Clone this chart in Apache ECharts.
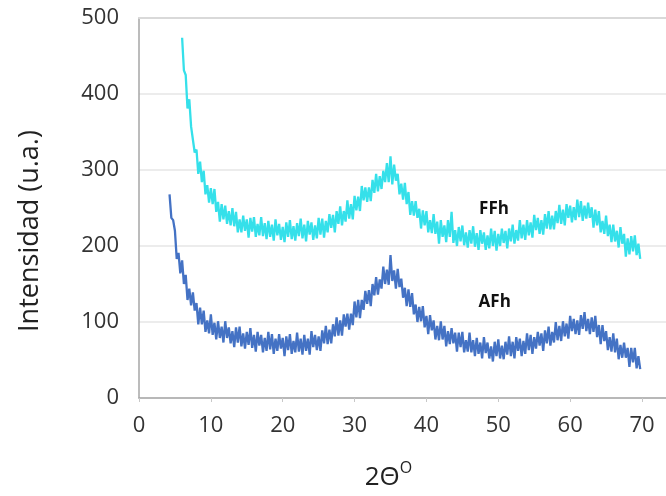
<!DOCTYPE html>
<html>
<head>
<meta charset="utf-8">
<script src="https://cdn.jsdelivr.net/npm/echarts@6/dist/echarts.min.js"></script>
<style>
html,body{margin:0;padding:0;background:#fff;}
#chart{width:666px;height:496px;}
</style>
</head>
<body>
<div id="chart"></div>
<script>
// 2-theta scan grid (degrees)
const xStep = 0.25;
const ffhStart = 6.0;
const afhStart = 4.25;

// Intensity values (u.a.), one group of 4 per degree
const ffhValues = [
  474,431,425,381, 393,357,357,323, 327,295,311,284, 299,268,280,257,
  276,255,275,245, 258,232,255,235, 253,229,246,227, 250,226,245,218,
  235,218,240,220, 235,211,237,219, 238,212,229,214, 238,213,230,209,
  233,212,228,207, 235,214,229,208, 225,205,231,212, 234,209,226,207,
  230,213,236,210, 228,206,233,215, 231,208,227,210, 237,215,236,211,
  233,218,242,224, 241,218,246,229, 252,227,246,232, 260,236,255,235,
  266,247,265,246, 279,260,277,258, 277,259,287,270, 295,272,292,275,
  299,284,309,284, 318,281,307,286, 295,268,282,261, 283,255,271,241,
  259,240,259,237, 249,223,247,227, 246,218,234,217, 242,216,232,203,
  234,212,227,205, 234,212,245,204, 221,200,225,206, 227,201,218,198,
  221,203,226,199, 217,195,221,203, 218,195,214,197, 223,200,220,194,
  216,200,223,204, 220,197,223,206, 228,203,221,207, 234,210,228,208,
  234,214,231,211, 241,221,237,216, 234,215,242,223, 246,222,240,222,
  246,230,254,229, 248,227,255,237, 253,231,251,234, 261,238,259,233,
  253,236,257,237, 251,224,248,227, 246,218,233,216, 240,213,228,205,
  228,206,220,198, 225,203,216,186, 210,189,213,193, 214,188,203,183
];
const afhValues = [
  268,237,234,
  220,183,191,164, 181,150,162,129, 144,122,139,115, 125,97,119,97,
  115,87,102,85, 110,83,99,77, 101,79,94,73, 101,79,93,72,
  88,67,93,73, 94,68,85,65, 87,70,92,66, 83,61,87,69,
  83,60,79,62, 87,64,84,58, 78,62,84,65, 79,55,81,63,
  84,58,75,60, 86,61,78,57, 83,62,78,57, 88,67,83,63,
  81,62,89,72, 95,71,90,72, 97,81,106,82, 102,82,110,94,
  111,90,111,96, 127,106,129,105, 129,116,141,124, 142,121,150,135,
  159,136,156,144, 173,150,169,149, 188,154,168,144, 170,146,157,132,
  145,121,143,120, 138,110,123,100, 120,101,121,93, 108,84,109,89,
  102,77,95,76, 101,77,95,68, 88,71,92,72, 86,61,86,67,
  87,60,76,61, 86,60,76,55, 79,58,73,52, 80,59,73,52,
  68,48,74,55, 77,52,69,51, 74,57,81,55, 74,52,80,62,
  78,55,75,58, 85,63,83,58, 80,65,87,69, 85,62,89,72,
  94,69,87,73, 100,76,95,75, 101,81,98,78, 108,88,104,84,
  102,83,109,91, 113,88,104,84, 106,87,108,80, 96,71,96,75,
  88,63,80,61, 85,60,78,51, 70,53,73,53, 66,41,66,47,
  66,39,55,38
];
const seriesNames = ['FFh', 'AFh'];
const xTicks = [0, 10, 20, 30, 40, 50, 60, 70];
const yTicks = [0, 100, 200, 300, 400, 500];

function toPairs(start, vals) {
  return vals.map((v, i) => [start + i * xStep, v]);
}

const chart = echarts.init(document.getElementById('chart'), null, {renderer: 'canvas'});
const font = "'Open Sans', 'Noto Sans', sans-serif";

chart.setOption({
  animation: false,
  backgroundColor: '#ffffff',
  grid: {left: 139, right: 0, top: 18, bottom: 93, containLabel: false},
  xAxis: [{
    type: 'value',
    min: xTicks[0],
    max: 73.34,
    interval: 10,
    name: '{t|2Θ}{s|O}',
    nameLocation: 'middle',
    nameGap: 62,
    nameTextStyle: {
      padding: [0, 28, 0, 0],
      rich: {
        t: {fontSize: 26, fontFamily: font, color: '#222', lineHeight: 36},
        s: {fontSize: 16, fontFamily: font, color: '#222', lineHeight: 16, verticalAlign: 'top'}
      }
    },
    axisLine: {show: true, onZero: false, lineStyle: {color: '#a6a6a6', width: 1.5}},
    axisTick: {show: true, length: 4, lineStyle: {color: '#c8c8c8'}},
    axisLabel: {
      fontSize: 22, fontFamily: font, color: '#333', margin: 17, showMaxLabel: false,
      formatter: v => (xTicks.indexOf(v) >= 0 ? String(v) : '')
    },
    splitLine: {show: false}
  }, {
    type: 'value',
    position: 'top',
    min: xTicks[0],
    max: 73.34,
    interval: 10,
    axisLine: {show: true, onZero: false, lineStyle: {color: '#d9d9d9', width: 2}},
    axisTick: {show: false},
    axisLabel: {show: false},
    splitLine: {show: false}
  }],
  yAxis: {
    type: 'value',
    min: yTicks[0],
    max: yTicks[yTicks.length - 1],
    interval: 100,
    axisLine: {show: true, lineStyle: {color: '#a6a6a6', width: 1.5}},
    axisTick: {show: false},
    axisLabel: {fontSize: 22, fontFamily: font, color: '#333', margin: 20},
    splitLine: {show: true, lineStyle: {color: '#e6e6e6', width: 1.5}}
  },
  graphic: [{
    type: 'text',
    x: 30, y: 231,
    rotation: Math.PI / 2,
    style: {
      text: 'Intensidad (u.a.)',
      font: "27px 'Open Sans', 'Noto Sans', sans-serif",
      fill: '#222',
      align: 'center',
      verticalAlign: 'middle'
    }
  }],
  series: [{
    name: seriesNames[0],
    type: 'line',
    data: toPairs(ffhStart, ffhValues),
    showSymbol: false,
    symbol: 'none',
    lineStyle: {color: '#35E0EA', width: 2.3},
    itemStyle: {color: '#35E0EA'},
    markPoint: {
      symbol: 'circle', symbolSize: 0,
      label: {show: true, formatter: seriesNames[0], fontSize: 17, fontWeight: 'bold', fontFamily: font, color: '#111'},
      data: [{coord: [49.4, 248]}]
    }
  }, {
    name: seriesNames[1],
    type: 'line',
    data: toPairs(afhStart, afhValues),
    showSymbol: false,
    symbol: 'none',
    lineStyle: {color: '#4472C4', width: 2.3},
    itemStyle: {color: '#4472C4'},
    markPoint: {
      symbol: 'circle', symbolSize: 0,
      label: {show: true, formatter: seriesNames[1], fontSize: 17, fontWeight: 'bold', fontFamily: font, color: '#111'},
      data: [{coord: [49.5, 126]}]
    }
  }]
});
</script>
</body>
</html>
